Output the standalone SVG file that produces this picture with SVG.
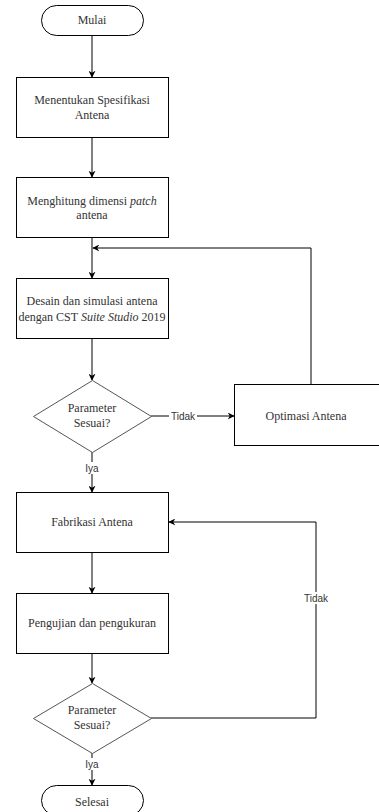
<svg xmlns="http://www.w3.org/2000/svg" width="379" height="812" viewBox="0 0 379 812">
<defs>
<marker id="arr" viewBox="0 0 10 10" refX="9" refY="5" markerWidth="7" markerHeight="7" markerUnits="userSpaceOnUse" orient="auto">
<path d="M0,0 L10,5 L0,10 L3,5 Z" fill="#000"/>
</marker>
</defs>
<style>
.box{fill:#fff;stroke:#000;stroke-width:1}
.dia{fill:#fff;stroke:#555;stroke-width:1}
.t{font-family:"Liberation Serif","Times New Roman",serif;font-size:12px;fill:#333;text-anchor:middle}
.i{font-style:italic}
.lbl{font-family:"Liberation Sans",Arial,sans-serif;font-size:10px;fill:#333;text-anchor:middle}
.c{fill:none;stroke:#000;stroke-width:1}
.bg{fill:#fff}
</style>
<rect width="379" height="812" fill="#fff"/>
<g id="connectors">
<path class="c" d="M92,35 L92,77" marker-end="url(#arr)"/>
<path class="c" d="M92,137 L92,177" marker-end="url(#arr)"/>
<path class="c" d="M92,238 L92,278" marker-end="url(#arr)"/>
<path class="c" d="M311,384 L311,248 L93,248" marker-end="url(#arr)"/>
<path class="c" d="M92,339 L92,380" marker-end="url(#arr)"/>
<path class="c" d="M151,416 L234,416" marker-end="url(#arr)"/>
<rect class="bg" x="169" y="410" width="28" height="12"/>
<text class="lbl" x="183" y="420">Tidak</text>
<path class="c" d="M92,452 L92,492" marker-end="url(#arr)"/>
<rect class="bg" x="84" y="462" width="16" height="12"/>
<text class="lbl" x="92" y="472">Iya</text>
<path class="c" d="M92,552 L92,593" marker-end="url(#arr)"/>
<path class="c" d="M92,653 L92,683" marker-end="url(#arr)"/>
<path class="c" d="M151,718 L316,718 L316,522 L169,522" marker-end="url(#arr)"/>
<rect class="bg" x="302" y="592" width="28" height="12"/>
<text class="lbl" x="316" y="602">Tidak</text>
<path class="c" d="M92,753 L92,785" marker-end="url(#arr)"/>
<rect class="bg" x="84" y="758" width="16" height="12"/>
<text class="lbl" x="92" y="768">Iya</text>
</g>
<g id="mulai">
<rect class="box" x="41.5" y="5.5" width="102" height="30" rx="15" ry="15"/>
<text class="t" x="92" y="24">Mulai</text>
</g>
<g id="spesifikasi">
<rect class="box" x="16.5" y="77.5" width="152" height="60"/>
<text class="t" x="92" y="104">Menentukan Spesifikasi</text>
<text class="t" x="92" y="119">Antena</text>
</g>
<g id="dimensi">
<rect class="box" x="16.5" y="177.5" width="152" height="60"/>
<text class="t" x="92" y="205">Menghitung dimensi <tspan class="i">patch</tspan></text>
<text class="t" x="92" y="219">antena</text>
</g>
<g id="desain">
<rect class="box" x="16.5" y="278.5" width="152" height="60"/>
<text class="t" x="92" y="305">Desain dan simulasi antena</text>
<text class="t" x="92" y="321">dengan CST <tspan class="i">Suite Studio</tspan> 2019</text>
</g>
<g id="keputusan1">
<polygon class="dia" points="92.5,380.5 151.5,416.5 92.5,452.5 33.5,416.5"/>
<text class="t" x="92" y="412">Parameter</text>
<text class="t" x="92" y="427">Sesuai?</text>
</g>
<g id="optimasi">
<rect class="box" x="234.5" y="384.5" width="150" height="61"/>
<text class="t" x="306" y="420">Optimasi Antena</text>
</g>
<g id="fabrikasi">
<rect class="box" x="16.5" y="492.5" width="152" height="60"/>
<text class="t" x="92" y="526">Fabrikasi Antena</text>
</g>
<g id="pengujian">
<rect class="box" x="16.5" y="593.5" width="152" height="60"/>
<text class="t" x="92" y="627">Pengujian dan pengukuran</text>
</g>
<g id="keputusan2">
<polygon class="dia" points="92.5,683.5 151.5,718.5 92.5,753.5 33.5,718.5"/>
<text class="t" x="92" y="714">Parameter</text>
<text class="t" x="92" y="729">Sesuai?</text>
</g>
<g id="selesai">
<rect class="box" x="41.5" y="785.5" width="102" height="30" rx="15" ry="15"/>
<text class="t" x="92" y="806">Selesai</text>
</g>
</svg>
